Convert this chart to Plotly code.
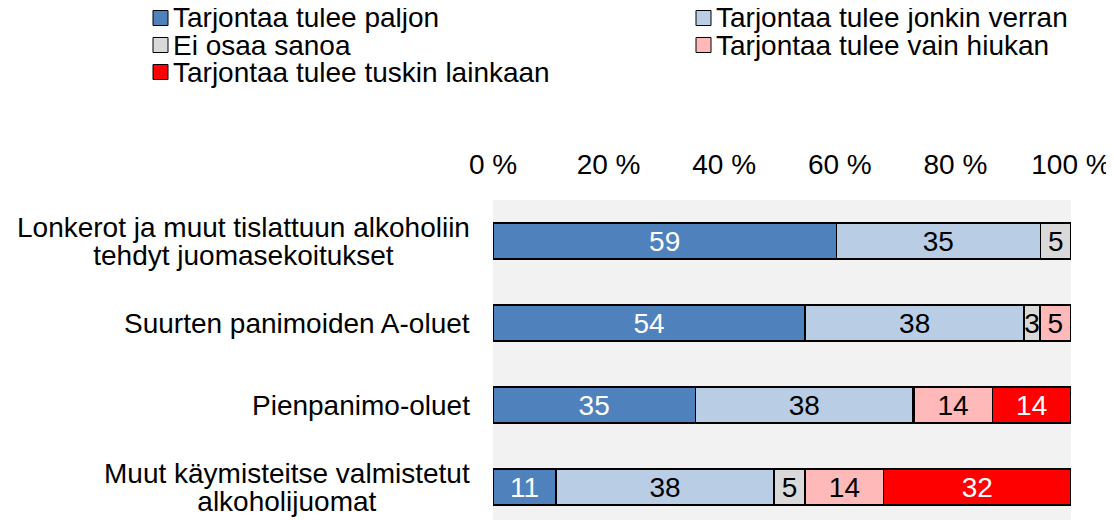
import plotly.graph_objects as go

categories = [
    "Lonkerot ja muut tislattuun alkoholiin<br>tehdyt juomasekoitukset",
    "Suurten panimoiden A-oluet",
    "Pienpanimo-oluet",
    "Muut käymisteitse valmistetut<br>alkoholijuomat",
]
series_names = [
    "Tarjontaa tulee paljon",
    "Tarjontaa tulee jonkin verran",
    "Ei osaa sanoa",
    "Tarjontaa tulee vain hiukan",
    "Tarjontaa tulee tuskin lainkaan",
]
paljon = [59.4, 54.0, 35.0, 10.9]
jonkin_verran = [35.3, 37.9, 37.7, 37.7]
ei_osaa = [5.3, 2.7, 0.1, 5.4]
vain_hiukan = [0.0, 5.4, 13.6, 13.6]
tuskin = [0.0, 0.0, 13.6, 32.4]
tick_values = [0, 20, 40, 60, 80, 100]
tick_labels = ["0 %", "20 %", "40 %", "60 %", "80 %", "100 %"]

series_values = [paljon, jonkin_verran, ei_osaa, vain_hiukan, tuskin]
colors = ["#4f81bd", "#b9cde5", "#d9d9d9", "#ffb9b9", "#ff0000"]
text_colors = ["white", "black", "black", "black", "white"]

FONT = "Liberation Sans, Arial, sans-serif"
FS = 28
LINE_FS = 21.5  # controls line spacing of two-line category labels

OFF = 8  # page body margin around the plot div
W, H = 1114 - OFF, 520 - OFF
L, R, T, B = 493 - OFF, 43, 200 - OFF, 0
PW = W - L - R
PH = H - T - B


def px_x(px):
    return (px - OFF - L) / PW


def px_y(py):
    return 1 - (py - OFF - T) / PH


fig = go.Figure()
for name, vals, col, tcol in zip(series_names, series_values, colors, text_colors):
    labels = [f"{v:.0f}" if v >= 2 else "" for v in vals]
    fig.add_trace(go.Bar(
        y=categories, x=vals, name=name, orientation="h",
        marker=dict(color=col, line=dict(color="black", width=1.5)),
        text=labels, textposition="inside", insidetextanchor="middle",
        constraintext="none", textangle=0,
        insidetextfont=dict(color=tcol, size=FS, family=FONT),
        showlegend=False, hoverinfo="x+name",
    ))

# category labels (centered multi-line blocks, right edge left of the plot)
for cat in categories:
    styled = "<br>".join(
        f"<span style='font-size:{FS}px'>{part}</span>" for part in cat.split("<br>")
    )
    fig.add_annotation(
        x=0, xref="paper", y=cat, yref="y", text=styled,
        xanchor="right", yanchor="middle", align="center",
        xshift=-21, showarrow=False,
        font=dict(size=LINE_FS, family=FONT, color="black"),
    )

# legend drawn in two columns
for i, (name, col) in enumerate(zip(series_names, colors)):
    c, r = i % 2, i // 2
    sx = 153 + c * 543
    sy = 18 + r * 27
    fig.add_shape(
        type="rect", xref="paper", yref="paper",
        x0=px_x(sx), x1=px_x(sx + 15), y0=px_y(sy - 7.5), y1=px_y(sy + 7.5),
        fillcolor=col, line=dict(color="black", width=1),
    )
    fig.add_annotation(
        x=px_x(sx + 18), y=px_y(sy), xref="paper", yref="paper",
        text=name, xanchor="left", yanchor="middle", showarrow=False,
        font=dict(size=FS, family=FONT, color="black"),
    )

fig.update_layout(
    barmode="stack", bargap=0.56,
    width=W, height=H,
    margin=dict(l=L, r=R, t=T, b=B, pad=0),
    paper_bgcolor="white", plot_bgcolor="#f2f2f2",
    font=dict(family=FONT, size=FS, color="black"),
    xaxis=dict(
        side="top", range=[0, 100], tickvals=tick_values, ticktext=tick_labels,
        showgrid=False, zeroline=False, showline=False, ticks="",
        tickfont=dict(size=FS, family=FONT, color="black"),
        ticklabelstandoff=19,
    ),
    yaxis=dict(
        categoryorder="array", categoryarray=categories,
        range=[3.4, -0.5], showticklabels=False, showgrid=False,
        zeroline=False, showline=False, ticks="",
    ),
)

fig.write_html("out.html")
